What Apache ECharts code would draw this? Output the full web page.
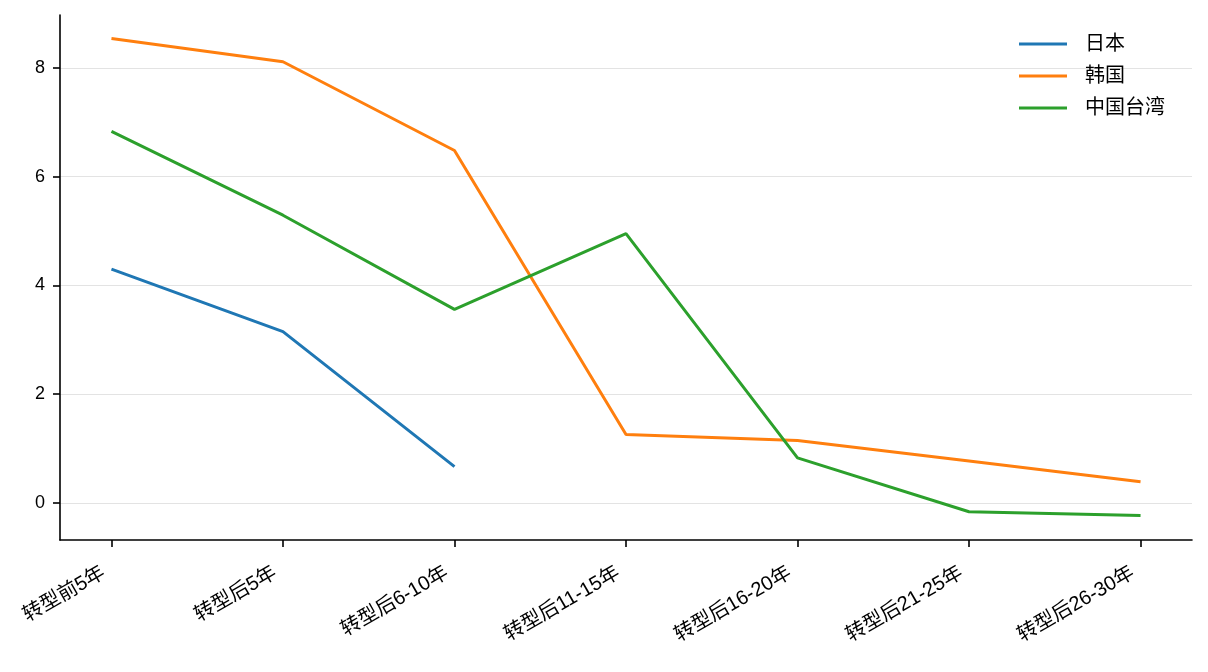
<!DOCTYPE html>
<html>
<head>
<meta charset="utf-8">
<script src="https://cdn.jsdelivr.net/npm/echarts@6/dist/echarts.min.js"></script>
<style>
  html, body { margin: 0; padding: 0; background: #fff; }
  #chart { width: 1208px; height: 672px; }
</style>
</head>
<body>
<div id="chart"></div>
<script>
// 分组类别
const categories = ['转型前5年', '转型后5年', '转型后6-10年', '转型后11-15年', '转型后16-20年', '转型后21-25年', '转型后26-30年']
const yTicks = [0, 2, 4, 6, 8]

// 各地区数值
const japan = [4.30, 3.15, 0.67, null, null, null, null]
const korea = [8.54, 8.11, 6.48, 1.26, 1.15, 0.77, 0.39]
const taiwan = [6.83, 5.29, 3.56, 4.95, 0.83, -0.16, -0.23]

const fontFamily = '"Liberation Sans", Arial, "Noto Sans CJK SC", sans-serif'

function toPoints(values) {
  return values.map((v, i) => [i, v])
}

const chart = echarts.init(document.getElementById('chart'))

chart.setOption({
  animation: false,
  color: ['#1f77b4', '#ff7f0e', '#2ca02c'],
  textStyle: { fontFamily: fontFamily },
  grid: { left: 60, right: 16, top: 15, bottom: 132 },
  legend: {
    orient: 'vertical',
    left: 1014,
    top: 29,
    icon: 'rect',
    itemWidth: 48,
    itemHeight: 3,
    itemGap: 12,
    textStyle: {
      fontSize: 20,
      lineHeight: 20,
      color: '#000',
      fontFamily: fontFamily,
      padding: [0, 0, 0, 13]
    },
    data: ['日本', '韩国', '中国台湾']
  },
  xAxis: {
    type: 'value',
    min: -0.3,
    max: 6.3,
    axisLine: { show: true, onZero: false, lineStyle: { color: '#000', width: 1.6 } },
    axisTick: {
      show: true,
      length: 7,
      lineStyle: { color: '#000', width: 1.6 },
      customValues: categories.map((c, i) => i)
    },
    axisLabel: {
      rotate: 30,
      fontSize: 20,
      color: '#000',
      margin: 27,
      padding: [0, 9, 0, 0],
      customValues: categories.map((c, i) => i),
      formatter: v => categories[Math.round(v)]
    },
    splitLine: { show: false }
  },
  yAxis: {
    type: 'value',
    min: -0.68,
    max: 8.97,
    axisLine: { show: true, onZero: false, lineStyle: { color: '#000', width: 1.6 } },
    axisTick: {
      show: true,
      length: 7,
      lineStyle: { color: '#000', width: 1.6 },
      customValues: yTicks
    },
    axisLabel: {
      fontSize: 18,
      color: '#000',
      margin: 15,
      customValues: yTicks
    },
    splitLine: { show: true, lineStyle: { color: '#e3e3e3', width: 1.2 } }
  },
  series: [
    { name: '日本', type: 'line', data: toPoints(japan), showSymbol: false, lineStyle: { width: 3 } },
    { name: '韩国', type: 'line', data: toPoints(korea), showSymbol: false, lineStyle: { width: 3 } },
    { name: '中国台湾', type: 'line', data: toPoints(taiwan), showSymbol: false, lineStyle: { width: 3 } }
  ]
})
</script>
</body>
</html>
